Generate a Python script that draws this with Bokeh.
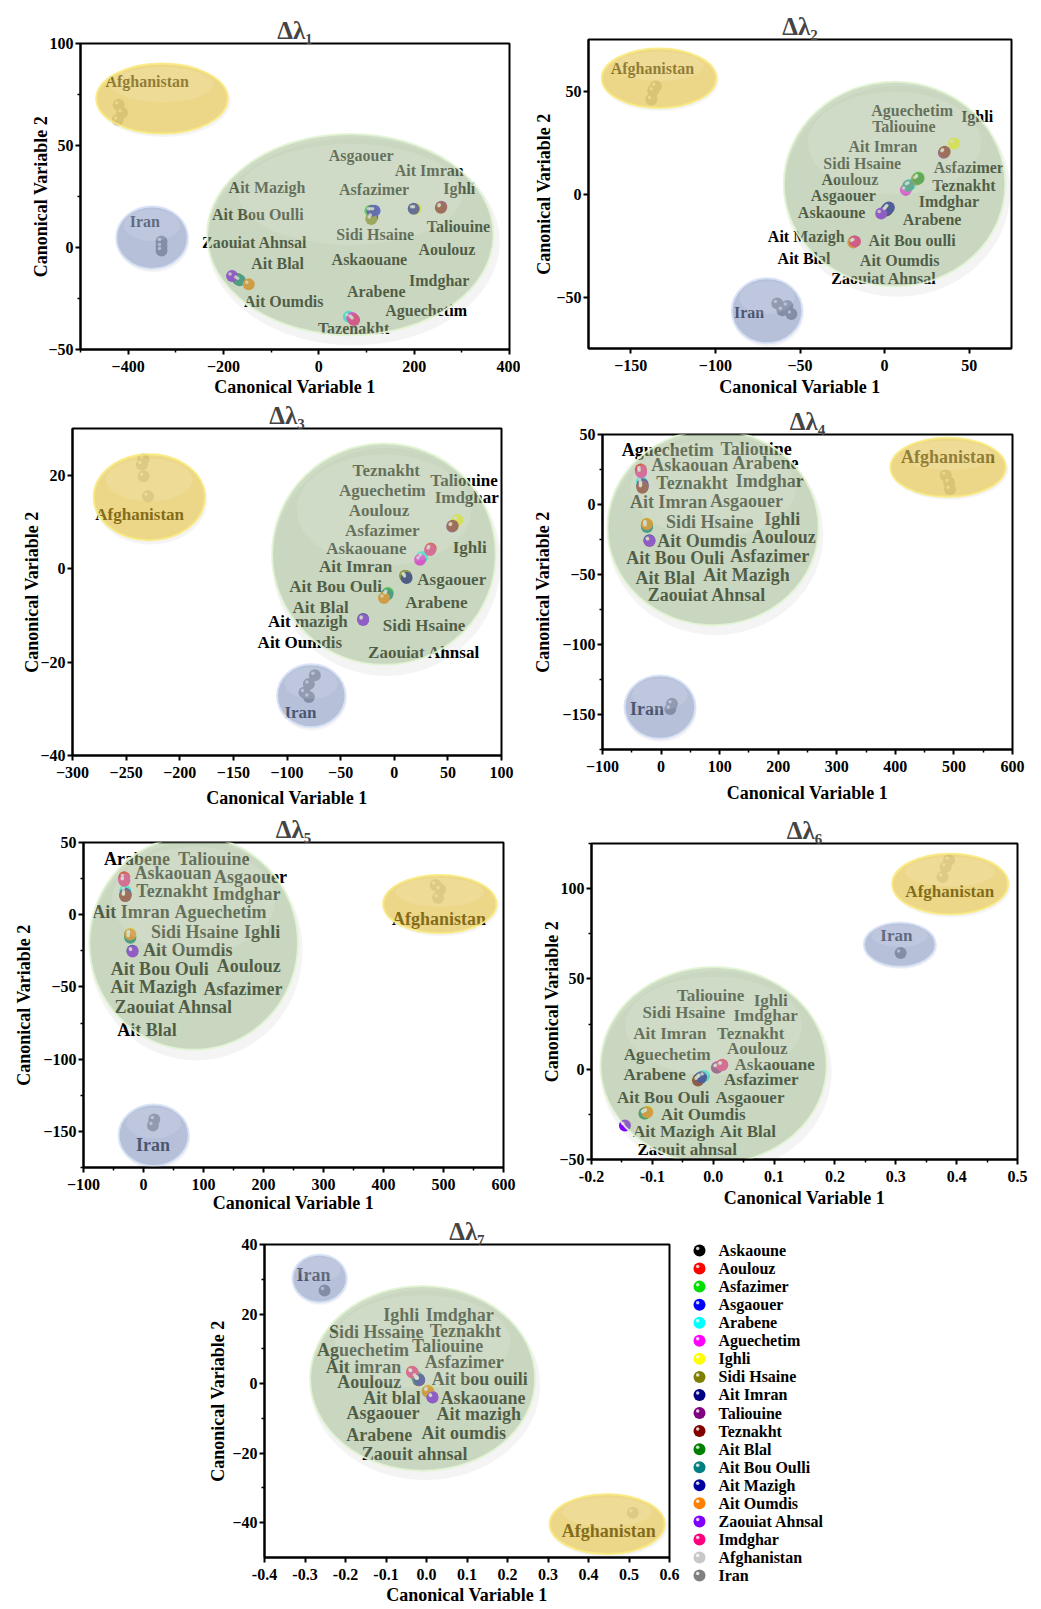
from bokeh.plotting import figure
from bokeh.layouts import row, column
from bokeh.models import Range1d, FixedTicker, Spacer, PrintfTickFormatter, CustomJSTickFormatter
from bokeh.core.properties import value
from bokeh.embed import file_html
from bokeh.resources import INLINE

FONT = "Liberation Serif"

# ---------------- categories ----------------
LOCATIONS = ["Askaoune", "Aoulouz", "Asfazimer", "Asgaouer", "Arabene", "Aguechetim",
             "Ighli", "Sidi Hsaine", "Ait Imran", "Taliouine", "Teznakht", "Ait Blal",
             "Ait Bou Oulli", "Ait Mazigh", "Ait Oumdis", "Zaouiat Ahnsal", "Imdghar"]
LEGEND_NAMES = LOCATIONS + ["Afghanistan", "Iran"]

# ---------------- panel 1 (Δλ1) ----------------
P1_X = [112, 72, 108, 117, 63, 70, 203, 110, 199, 257, 256, -170, -166, 112, -147, -182, 74]
P1_Y = [15, -35, 18, 18, -34, -34.5, 19, 14, 19, 20, 19.5, -15.5, -16, 18, -18, -14, -35.5]
P1_AFG_X = [-420, -413, -422]
P1_AFG_Y = [70, 66, 62.5]
P1_IRAN_X = [-330, -330, -330]
P1_IRAN_Y = [3, 0.5, -1.5]
P1_LABELS = ["Afghanistan", "Iran", "Asgaouer", "Ait Imran", "Ait Mazigh", "Asfazimer", "Ighli",
             "Ait Bou Oulli", "Taliouine", "Sidi Hsaine", "Zaouiat Ahnsal", "Aoulouz", "Askaouane",
             "Ait Blal", "Imdghar", "Arabene", "Ait Oumdis", "Aguechetim", "Tazenakht"]
P1_LABEL_X = [-360, -365, 89, 231.6, -108.7, 116, 294.6, -128, 293, 118.4, -134.5, 268.7, 106,
              -86.5, 252.6, 120.5, -73.7, 225, 73]
P1_LABEL_Y = [81.4, 12.8, 45, 37.7, 29.2, 28.2, 28.7, 16.4, 10.2, 6.2, 2.6, -1.2, -5.8, -8,
              -16.2, -21.4, -26.3, -30.9, -39.9]
# group bubbles: (center x, center y, width, height) for locations / Afghanistan / Iran
P1_GROUPS = [(66, 6.3, 601, 98.7), (-329, 73, 276, 34.3), (-350, 4.8, 150, 30.7)]

# ---------------- panel 2 (Δλ2) ----------------
P2_X = [1, -18, 20, 2, 15, 12.5, 41, 19, 1.5, 35, 35.5, 20, 14, 2.5, -18.5, -2, -17.5]
P2_Y = [-8, -23, 8, -7, 4.5, 2, 24.5, 7, -7.5, 20, 20.5, 7.5, 4, -6.5, -23.5, -9.5, -23]
P2_AFG_X = [-135.2, -136.8, -137.8]
P2_AFG_Y = [52.3, 50.1, 45.9]
P2_IRAN_X = [-63.4, -57.5, -60.4, -55.1]
P2_IRAN_Y = [-53.2, -54.4, -56.4, -58.3]
P2_LABELS = ["Afghanistan", "Iran", "Aguechetim", "Ighli", "Taliouine", "Ait Imran", "Sidi Hsaine",
             "Asfazimer", "Aoulouz", "Teznakht", "Asgaouer", "Imdghar", "Askaoune", "Arabene",
             "Ait Mazigh", "Ait Bou oulli", "Ait Blal", "Ait Oumdis", "Zaouiat Ahnsal"]
P2_LABEL_X = [-137.2, -80.1, 16.3, 54.7, 11.4, -1, -13.2, 49.8, -20.5, 46.9, -24.4, 38, -31.3,
              28.1, -46.3, 16.3, -47.6, 8.9, -0.4]
P2_LABEL_Y = [60.9, -57.5, 40.7, 37.5, 33, 23.2, 14.8, 12.9, 7, 4, -0.9, -3.8, -9, -12.4, -20.8,
              -22.4, -31.3, -32.4, -41]
P2_GROUPS = [(5.9, 4.8, 131, 99.5), (-133.3, 56.2, 67.7, 28.8), (-69.5, -56.7, 41.7, 31.6)]

# ---------------- panel 3 (Δλ3) ----------------
P3_X = [10.7, 34, -6, 11, 26, 24, 59, 10, 11.5, 54, 54.5, -7, -6.5, -29, -9.6, -29, 33.4]
P3_Y = [-1.6, 4.3, -5.2, -1.8, 2.5, 1.9, 10.4, -1.5, -2, 9, 9.2, -5.6, -5.5, -10.8, -6.3, -11, 4]
P3_AFG_X = [-233.7, -235.3, -233.7, -229.6]
P3_AFG_Y = [23.4, 22.3, 19.8, 15.5]
P3_IRAN_X = [-74, -79.6, -83.7, -79.6]
P3_IRAN_Y = [-22.8, -24.7, -26.5, -27.5]
P3_LABELS = ["Afghanistan", "Iran", "Teznakht", "Taliouine", "Aguechetim", "Imdghar", "Aoulouz",
             "Asfazimer", "Askaouane", "Ighli", "Ait Imran", "Asgaouer", "Ait Bou Ouli", "Arabene",
             "Ait Blal", "Ait mazigh", "Sidi Hsaine", "Ait Oumdis", "Zaouiat Ahnsal"]
P3_LABEL_X = [-237.4, -87.4, -7.4, 65.1, -11.1, 67.6, -14.2, -11.1, -26, 70.4, -36, 53.6, -54.7,
              39.3, -68.7, -80.5, 27.8, -88, 27.8]
P3_LABEL_Y = [11.6, -30.8, 21.1, 18.9, 16.8, 15.3, 12.5, 8.1, 4.3, 4.5, 0.4, -2.4, -3.8, -7.3,
              -8.3, -11.3, -12.1, -15.8, -17.9]
P3_GROUPS = [(-9.6, 3.1, 208.6, 47.4), (-228.4, 15.3, 103.7, 18.4), (-77.4, -27.2, 63.8, 13.5)]

# ---------------- panel 4 (Δλ4) ----------------
P4_X = [-32, -34.5, -24, -31.5, -33, -34, -24, -24.5, -31.5, -31.5, -32, -24, -24, -20, -24.2, -19.6, -34.4]
P4_Y = [14, 25, -15, 13, 16, 23, -13.5, -14.5, 14.5, 12.5, 12, -15.5, -16, -25.5, -14, -26, 24]
P4_AFG_X = [486, 491.7, 493.4]
P4_AFG_Y = [20.9, 15.7, 10.9]
P4_IRAN_X = [18.6, 15.7]
P4_IRAN_Y = [-142.3, -146]
P4_LABELS = ["Afghanistan", "Iran", "Aguechetim", "Taliouine", "Askaouan", "Arabene", "Teznakht",
             "Imdghar", "Ait Imran", "Asgaouer", "Sidi Hsaine", "Ighli", "Ait Oumdis", "Aoulouz",
             "Ait Bou Ouli", "Asfazimer", "Ait Blal", "Ait Mazigh", "Zaouiat Ahnsal"]
P4_LABEL_X = [490, -24.2, 11.2, 162.2, 48.8, 178.2, 52.8, 185.6, 12.9, 145.7, 83, 206.7, 69.9,
              209.5, 24.3, 185.6, 7.2, 145.7, 78.4]
P4_LABEL_Y = [33.6, -146.4, 38.8, 40, 28.1, 29.3, 15.7, 16.6, 1.9, 2.3, -12.4, -10.5, -26, -23.2,
              -38, -36.8, -52.2, -50.1, -64.4]
P4_GROUPS = [(88.7, -16.5, 360.8, 139.4), (490, 26.6, 196.7, 42.2), (-2, -144.7, 120.8, 45.3)]

# ---------------- panel 5 (Δλ5) ----------------
P5_X = [-30, -32, -22, -30, -30.4, -32, -22, -22.5, -30, -30, -30.5, -22, -22, -18.5, -22.1, -18.2, -32]
P5_Y = [14, 26, -14.5, 13.5, 16.6, 24, -13, -14, 14.5, 13, 12.9, -15.5, -16, -25, -13.6, -25.5, 23.5]
P5_AFG_X = [487, 494.3, 491]
P5_AFG_Y = [20.5, 17.5, 11.8]
P5_IRAN_X = [18, 15.7]
P5_IRAN_Y = [-141.8, -146]
P5_LABELS = ["Afghanistan", "Iran", "Arabene", "Taliouine", "Askaouan", "Asgaouer", "Teznakht",
             "Imdghar", "Ait Imran", "Aguechetim", "Sidi Hsaine", "Ighli", "Ait Oumdis",
             "Ait Bou Ouli", "Aoulouz", "Ait Mazigh", "Asfazimer", "Zaouiat Ahnsal", "Ait Blal"]
P5_LABEL_X = [492.6, 15.7, -11, 117, 49.1, 178.2, 47.5, 171.6, -21, 128.2, 85.3, 197.7, 73.6,
              26.9, 175.5, 16.9, 166, 50.3, 5.7]
P5_LABEL_Y = [-3, -159.1, 38.3, 38.3, 28.6, 25.8, 16.6, 14.1, 2.1, 2.1, -12.2, -12.2, -24.4,
              -37.7, -35.2, -49.7, -51.1, -64, -79.7]
P5_GROUPS = [(83.6, -19.6, 347.8, 147.9), (493.8, 7.4, 188.6, 40.3), (16.9, -152.7, 116.9, 42.6)]

# ---------------- panel 6 (Δλ6) ----------------
P6_X = [-0.024, 0.015, -0.112, -0.021, -0.015, 0.007, -0.108, -0.11, -0.022, 0.006, -0.025,
        -0.113, -0.112, -0.02, -0.1085, -0.145, 0.014]
P6_Y = [-5.5, 2.5, -24.5, -4.9, -3.8, 1.2, -23.5, -24, -5, 0.8, -6.2, -24.5, -24.3, -4.5, -23.8, -31.2, 2.2]
P6_AFG_X = [0.3876, 0.382, 0.3767]
P6_AFG_Y = [115.8, 112.1, 106.5]
P6_IRAN_X = [0.308]
P6_IRAN_Y = [64.4]
P6_LABELS = ["Afghanistan", "Iran", "Taliouine", "Ighli", "Sidi Hsaine", "Imdghar", "Ait Imran",
             "Teznakht", "Aoulouz", "Aguechetim", "Askaouane", "Arabene", "Asfazimer",
             "Ait Bou Ouli", "Asgaouer", "Ait Oumdis", "Ait Mazigh", "Ait Blal", "Zaouit ahnsal"]
P6_LABEL_X = [0.3887, 0.301, -0.0043, 0.0944, -0.0482, 0.0861, -0.0712, 0.0615, 0.0724, -0.0756,
              0.101, -0.0964, 0.079, -0.0821, 0.0604, -0.0164, -0.0646, 0.0571, -0.0427]
P6_LABEL_Y = [98.2, 73.8, 40.9, 38.1, 31.3, 29.5, 19.7, 20, 11.3, 8, 2.7, -2.9, -5.8, -15.5,
              -15.5, -25.1, -34.5, -34.5, -44.7]
P6_GROUPS = [(0.0006, 2.1, 0.3717, 109), (0.3893, 102.6, 0.1902, 33.6), (0.3065, 69, 0.1179, 24.6)]

# ---------------- panel 7 (Δλ7) ----------------
P7_X = [-0.02, -0.036, -0.025, -0.019, -0.022, -0.035, 0.004, 0.003, -0.019, 0.014, -0.018,
        -0.021, -0.02, -0.018, 0.0036, 0.015, -0.034]
P7_Y = [1, 3.4, 2, 1.2, 1.5, 3.2, -2, -2.3, 1.2, -3.8, 1.0, 1.3, 1.4, 1.1, -2.1, -4, 3.2]
P7_AFG_X = [0.5094]
P7_AFG_Y = [-37.1]
P7_IRAN_X = [-0.2517]
P7_IRAN_Y = [26.8]
P7_LABELS = ["Iran", "Afghanistan", "Ighli", "Imdghar", "Sidi Hssaine", "Teznakht", "Aguechetim",
             "Taliouine", "Ait imran", "Asfazimer", "Aoulouz", "Ait bou ouili", "Ait blal",
             "Askaouane", "Asgaouer", "Ait mazigh", "Arabene", "Ait oumdis", "Zaouit ahnsal"]
P7_LABEL_X = [-0.2789, 0.4501, -0.0623, 0.0819, -0.1241, 0.0959, -0.157, 0.0522, -0.1554, 0.0934,
              -0.1413, 0.1313, -0.0853, 0.1395, -0.1076, 0.1288, -0.1166, 0.0918, -0.0293]
P7_LABEL_Y = [31.2, -42.3, 19.6, 19.6, 14.9, 15.1, 9.6, 10.8, 4.9, 6.3, 0.6, 1.4, -4, -4, -8.5,
              -8.8, -14.9, -14.3, -20.1]
P7_GROUPS = [(-0.0096, 1.5, 0.556, 53.1), (0.446, -40.4, 0.284, 17.2), (-0.264, 30.2, 0.134, 13.7)]

# ---------------- styles ----------------
PALETTE = ["#000000", "#ff0000", "#00e000", "#0000ff", "#00ffff", "#ff00ff", "#ffff00",
           "#808000", "#000080", "#800080", "#800000", "#008000", "#008080", "#0000a0",
           "#ff8000", "#8000ff", "#ff0080", "#c8c8c8", "#808080"]
GROUP_STYLE = [("#a0b98c", 0.50, "#e2f4d4"),   # locations (green)
               ("#e6be32", 0.56, "#f8ea80"),   # Afghanistan (yellow)
               ("#8597c4", 0.56, "#d8e2f6")]   # Iran (blue)


def make_panel(title, box, xr, yr, xt, xminor, yt, yminor, xfmt, yfmt,
               px, py, ax, ay, ix, iy, labels, lx, ly, groups, label_size, xstand, ystand):
    w, h, bl, br, bt, bb = box
    p = figure(width=w, height=h, x_range=Range1d(*xr), y_range=Range1d(*yr),
               output_backend="svg", toolbar_location=None, title=title,
               min_border_left=bl, min_border_right=br, min_border_top=bt, min_border_bottom=bb)
    p.title.text_font = FONT
    p.title.text_font_style = "bold"
    p.title.text_font_size = "25px"
    p.title.align = "center"
    p.title.standoff = 0
    p.grid.visible = False
    p.outline_line_color = "black"
    p.outline_line_width = 2
    p.background_fill_color = "white"
    p.border_fill_color = "white"

    p.xaxis.ticker = FixedTicker(ticks=xt, minor_ticks=xminor)
    p.yaxis.ticker = FixedTicker(ticks=yt, minor_ticks=yminor)
    if xfmt is not None:
        p.xaxis.formatter = xfmt
    if yfmt is not None:
        p.yaxis.formatter = yfmt
    p.xaxis.axis_label = "Canonical Variable 1"
    p.yaxis.axis_label = "Canonical Variable 2"
    for a in p.axis:
        a.axis_label_text_font = FONT
        a.axis_label_text_font_style = "bold"
        a.axis_label_text_font_size = "18px"
        a.axis_label_text_color = "black"
        a.major_label_text_font = FONT
        a.major_label_text_font_style = "bold"
        a.major_label_text_font_size = "16px"
        a.major_label_text_color = "black"
        a.axis_line_width = 2
        a.axis_line_color = "black"
        a.major_tick_line_width = 2
        a.major_tick_line_color = "black"
        a.major_tick_out = 5
        a.major_tick_in = 0
        a.minor_tick_line_width = 1.5
        a.minor_tick_line_color = "black"
        a.minor_tick_out = 3
        a.minor_tick_in = 0
    p.xaxis.major_label_standoff = 6
    p.yaxis.major_label_standoff = 2
    p.xaxis.axis_label_standoff = xstand
    p.yaxis.axis_label_standoff = ystand

    # soft shadows under the group bubbles
    for (cx, cy, ew, eh) in groups:
        p.ellipse(x=[cx + 0.012 * ew], y=[cy - 0.035 * eh], width=[ew * 1.02], height=[eh * 1.03],
                  fill_color="#707070", fill_alpha=0.08, line_color=None)

    xs = list(px) + list(ax) + list(ix)
    ys = list(py) + list(ay) + list(iy)
    cols = PALETTE[:17] + [PALETTE[17]] * len(ax) + [PALETTE[18]] * len(ix)
    p.scatter(xs, ys, size=12, fill_color=cols, line_color=None)
    # small specular highlight, nudged ~2px up-left of each sphere centre
    fw, fh = w - bl - br, h - bt - bb
    dx = 2.0 * (xr[1] - xr[0]) / fw
    dy = 2.0 * (yr[1] - yr[0]) / fh
    p.scatter([v - dx for v in xs], [v + dy for v in ys], size=3.5, fill_color="white",
              fill_alpha=0.8, line_color=None)

    p.text(x=lx, y=ly, text=labels, text_font=value(FONT), text_font_style="bold",
           text_font_size=label_size, text_color="black", text_align="center",
           text_baseline="middle")

    # translucent bubbles drawn on top (text shows through, tinted)
    for (cx, cy, ew, eh), (fc, fa, lc) in zip(groups, GROUP_STYLE):
        p.ellipse(x=[cx], y=[cy], width=[ew], height=[eh], fill_color=fc, fill_alpha=fa,
                  line_color=lc, line_width=2, line_alpha=0.9)
        p.ellipse(x=[cx], y=[cy + 0.2 * eh], width=[ew * 0.78], height=[eh * 0.5],
                  fill_color="white", fill_alpha=0.12, line_color=None)
    return p


unicode_minus = CustomJSTickFormatter(code="return tick < 0 ? '\u2212' + Math.abs(tick) : String(tick);")
one_decimal = PrintfTickFormatter(format="%.1f")

f1 = make_panel("Δλ₁", (520, 399, 80, 11, 43, 50), (-500, 400), (-50, 100),
                [-400, -200, 0, 200, 400], [-500, -300, -100, 100, 300],
                [-50, 0, 50, 100], [-25, 25, 75], None, None,
                P1_X, P1_Y, P1_AFG_X, P1_AFG_Y, P1_IRAN_X, P1_IRAN_Y,
                P1_LABELS, P1_LABEL_X, P1_LABEL_Y, P1_GROUPS, "16px", 2, -6)
f2 = make_panel("Δλ₂", (513, 399, 68, 22, 39, 51), (-175, 75), (-75, 75),
                [-150, -100, -50, 0, 50], [], [-50, 0, 50], [], None, None,
                P2_X, P2_Y, P2_AFG_X, P2_AFG_Y, P2_IRAN_X, P2_IRAN_Y,
                P2_LABELS, P2_LABEL_X, P2_LABEL_Y, P2_GROUPS, "16px", 3, -1)
f3 = make_panel("Δλ₃", (520, 414, 72, 19, 28, 58), (-300, 100), (-40, 30),
                [-300, -250, -200, -150, -100, -50, 0, 50, 100], [], [-40, -20, 0, 20], [], None, None,
                P3_X, P3_Y, P3_AFG_X, P3_AFG_Y, P3_IRAN_X, P3_IRAN_Y,
                P3_LABELS, P3_LABEL_X, P3_LABEL_Y, P3_GROUPS, "17px", 7, -5)
f4 = make_panel("Δλ₄", (513, 414, 82, 21, 35, 64), (-100, 600), (-175, 50),
                [-100, 0, 100, 200, 300, 400, 500, 600], [-50, 50, 150, 250, 350, 450, 550],
                [-150, -100, -50, 0, 50], [-175, -125, -75, -25, 25], unicode_minus, unicode_minus,
                P4_X, P4_Y, P4_AFG_X, P4_AFG_Y, P4_IRAN_X, P4_IRAN_Y,
                P4_LABELS, P4_LABEL_X, P4_LABEL_Y, P4_GROUPS, "18px", 8, 6)
f5 = make_panel("Δλ₅", (520, 402, 83, 17, 29, 47), (-100, 600), (-175, 50),
                [-100, 0, 100, 200, 300, 400, 500, 600], [-50, 50, 150, 250, 350, 450, 550],
                [-150, -100, -50, 0, 50], [-175, -125, -75, -25, 25], unicode_minus, unicode_minus,
                P5_X, P5_Y, P5_AFG_X, P5_AFG_Y, P5_IRAN_X, P5_IRAN_Y,
                P5_LABELS, P5_LABEL_X, P5_LABEL_Y, P5_GROUPS, "18px", 0, 6)
f6 = make_panel("Δλ₆", (513, 402, 71, 16, 30, 56), (-0.2, 0.5), (-50, 125),
                [-0.2, -0.1, 0.0, 0.1, 0.2, 0.3, 0.4, 0.5], [-0.15, -0.05, 0.05, 0.15, 0.25, 0.35, 0.45],
                [-50, 0, 50, 100], [-25, 25, 75, 125], one_decimal, None,
                P6_X, P6_Y, P6_AFG_X, P6_AFG_Y, P6_IRAN_X, P6_IRAN_Y,
                P6_LABELS, P6_LABEL_X, P6_LABEL_Y, P6_GROUPS, "17px", 3, -6)
f7 = make_panel("Δλ₇", (480, 392, 60, 15, 28, 50), (-0.4, 0.6), (-50, 40),
                [-0.4, -0.3, -0.2, -0.1, 0.0, 0.1, 0.2, 0.3, 0.4, 0.5, 0.6], [],
                [-40, -20, 0, 20, 40], [-30, -10, 10, 30], one_decimal, None,
                P7_X, P7_Y, P7_AFG_X, P7_AFG_Y, P7_IRAN_X, P7_IRAN_Y,
                P7_LABELS, P7_LABEL_X, P7_LABEL_Y, P7_GROUPS, "18px", 2, 1)

# ---------------- legend ----------------
leg = figure(width=200, height=392, x_range=Range1d(0, 200), y_range=Range1d(19.767, -1.938),
             x_axis_location=None, y_axis_location=None, output_backend="svg",
             toolbar_location=None, min_border=0)
leg.outline_line_color = None
leg.grid.visible = False
leg.background_fill_color = "white"
leg.border_fill_color = "white"
rows_idx = list(range(len(LEGEND_NAMES)))
leg.scatter([15] * len(rows_idx), rows_idx, size=12, fill_color=PALETTE, line_color=None)
leg.scatter([13.2] * len(rows_idx), [r - 0.11 for r in rows_idx], size=3.5, fill_color="white",
            fill_alpha=0.8, line_color=None)
leg.text(x=[34] * len(rows_idx), y=rows_idx, text=LEGEND_NAMES, text_font=value(FONT),
         text_font_style="bold", text_font_size="16px", text_color="black",
         text_align="left", text_baseline="middle")

# each plot wrapped on its own so that neighbouring frames are not forced into alignment
layout = column(row(column(f1), column(f2)),
                row(column(f3), column(f4)),
                row(column(f5), column(f6)),
                row(Spacer(width=204, height=392), column(f7), column(leg)))

open("out.html", "w").write(file_html(layout, INLINE))
